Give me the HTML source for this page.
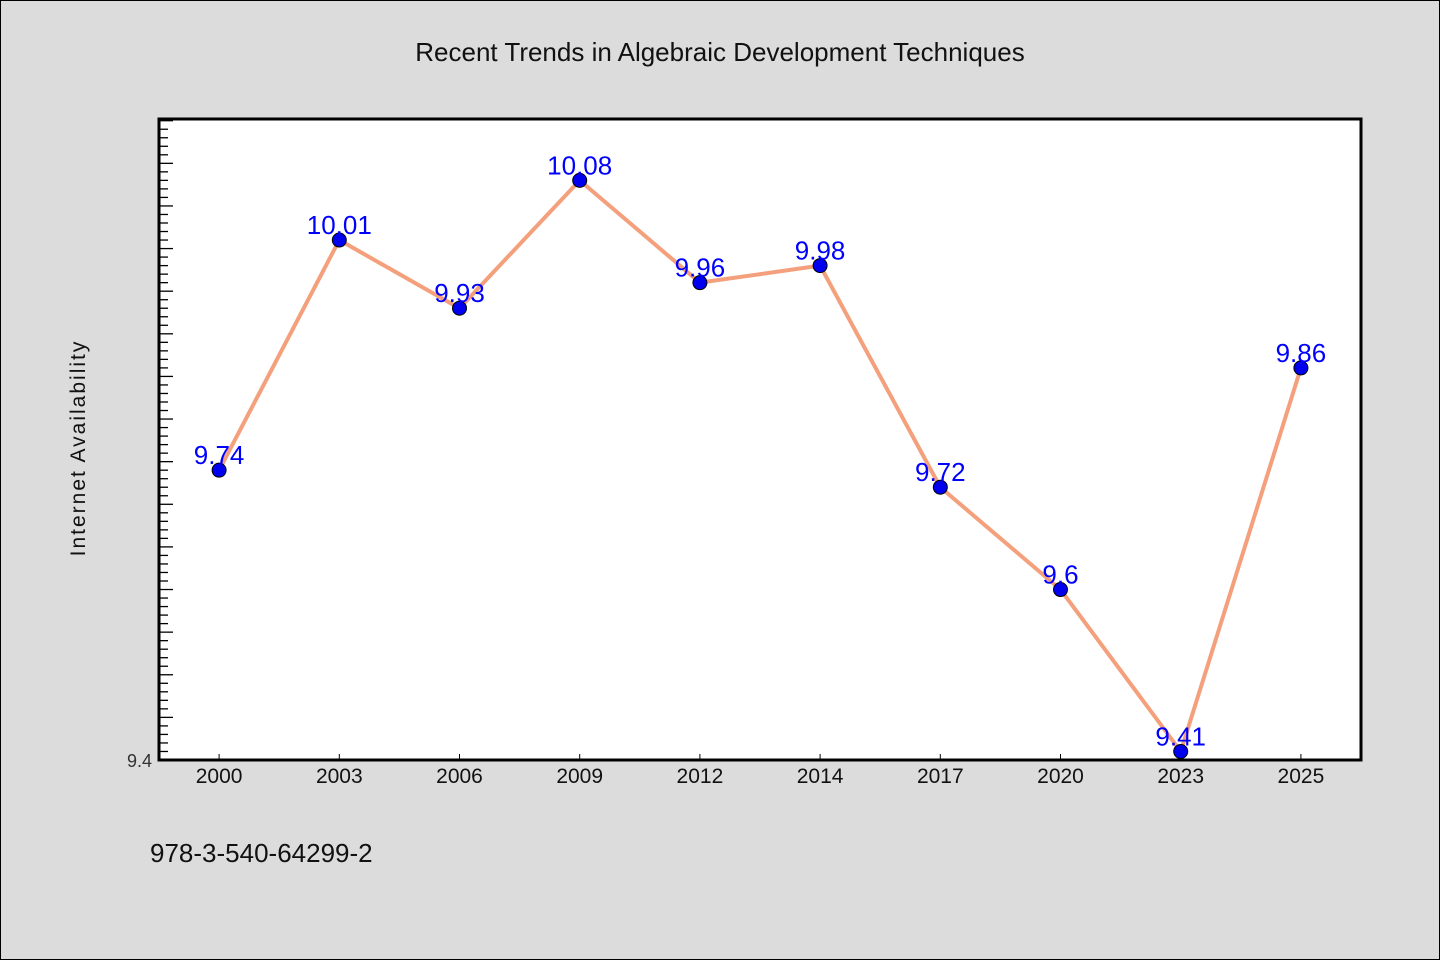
<!DOCTYPE html>
<html><head><meta charset="utf-8"><style>
body{margin:0;background:#dcdcdc;}
svg{display:block;font-family:"WenQuanYi Zen Hei","Liberation Sans",sans-serif;}
</style></head><body>
<svg id="chart" width="1440" height="960">
<rect x="0.5" y="0.5" width="1439" height="959" fill="#dcdcdc" stroke="#000"/>
<text x="720" y="61" text-anchor="middle" font-size="26" fill="#111">Recent Trends in Algebraic Development Techniques</text>
<rect x="159" y="119" width="1202" height="641" fill="#fff"/>
<g id="ticks"></g>
<g id="series"></g>
<rect x="159" y="119" width="1202" height="641" fill="none" stroke="#000" stroke-width="3"/>
<text x="85" y="448" text-anchor="middle" font-size="21" fill="#111" transform="rotate(-90 85 448)" letter-spacing="2">Internet Availability</text>
<text x="150" y="862" font-size="26" fill="#111">978-3-540-64299-2</text>
</svg>
<script>
const categories=["2000","2003","2006","2009","2012","2014","2017","2020","2023","2025"];
const values=[9.74,10.01,9.93,10.08,9.96,9.98,9.72,9.6,9.41,9.86];
const valueLabels=["9.74","10.01","9.93","10.08","9.96","9.98","9.72","9.6","9.41","9.86"];
const yMin=9.4, yMax=10.152;
const L=159,R=1361,T=119,B=760;
const NS="http://www.w3.org/2000/svg";
const bw=(R-L)/categories.length;
function x(i){return L+bw*(i+0.5);}
function y(v){return B-(v-yMin)/(yMax-yMin)*(B-T);}
function mk(tag,attrs,parent){const e=document.createElementNS(NS,tag);for(const k in attrs)e.setAttribute(k,attrs[k]);parent.appendChild(e);return e;}
const tg=document.getElementById('ticks'), sg=document.getElementById('series');
for(let k=0;;k++){const v=yMin+k*0.01;if(v>yMax+1e-9)break;const yy=y(v);const major=k%5===0;
 const t=mk('line',{x1:L,x2:L+(major?14:9),y1:yy,y2:yy,stroke:'#000','stroke-width':1.3},tg);
 
 }
const yl=mk('text',{x:152,y:767,'text-anchor':'end','font-size':18,fill:'#333'},tg);yl.textContent='9.4';


categories.forEach((c,i)=>{
 const t=mk('line',{x1:x(i),x2:x(i),y1:B,y2:B-6,stroke:'#000','stroke-width':1},tg);
 
 
 const l=mk('text',{x:x(i),y:783,'text-anchor':'middle','font-size':21,fill:'#111'},tg);l.textContent=c;
 
 
});
const pl=mk('polyline',{points:values.map((v,i)=>x(i)+','+y(v)).join(' '),fill:'none',stroke:'#f4a07c','stroke-width':4,'stroke-linejoin':'round'},sg);


values.forEach((v,i)=>{
 const c=mk('circle',{cx:x(i),cy:y(v),r:7,fill:'#0000ee',stroke:'#000','stroke-width':1},sg);
 
 
 const t=mk('text',{x:x(i),y:y(v)-6,'text-anchor':'middle','font-size':26,fill:'#0000ff'},sg);t.textContent=valueLabels[i];
 
 
});
</script>
</body></html>
